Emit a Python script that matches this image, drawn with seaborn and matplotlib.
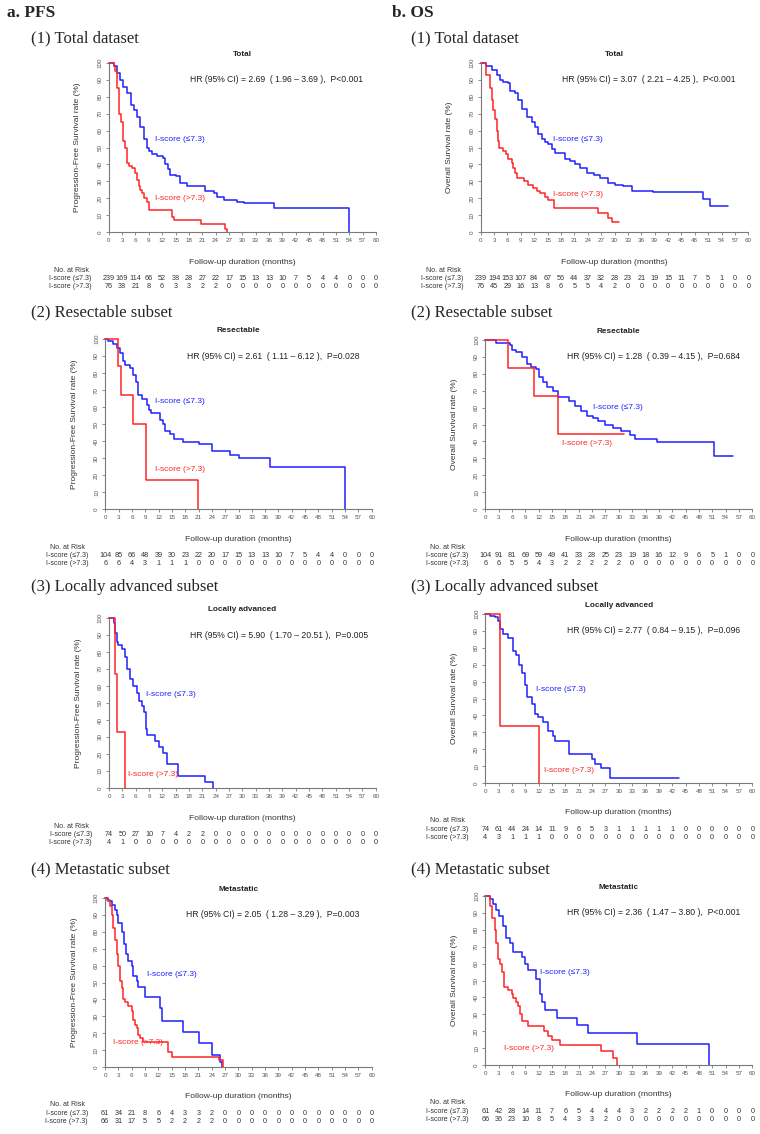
import numpy as np
import pandas as pd
import seaborn as sns
import matplotlib
matplotlib.use('Agg')
import matplotlib.pyplot as plt

# ---- data (KM step points: time in months, survival %) ----
months = list(range(0, 61, 3))

pfs_total_lo_t = [0, 1.1, 1.8, 2.6, 3.2, 4.1, 4.9, 5.6, 6.4, 7.1, 7.9, 8.5, 9.0, 9.7, 10.8, 12.1, 12.7, 13.3, 13.8, 15.0, 16.1, 17.6, 21.7, 23.6, 24.3, 25.8, 28.8, 30.3, 37.2, 53.9]
pfs_total_lo_s = [100, 98, 94, 90, 86, 82, 75, 72, 68, 62, 55, 50, 48, 46, 45, 44, 40, 37, 34, 33, 29, 27.5, 24, 23, 21, 19, 18, 17, 14, 0]
pfs_total_hi_t = [0, 1.2, 1.5, 1.9, 2.2, 2.8, 3.2, 3.7, 4.0, 4.5, 5.2, 6.0, 6.4, 6.7, 7.1, 7.5, 7.9, 8.6, 9.1, 14.2, 14.7, 20.7, 26.0, 26.5]
pfs_total_hi_s = [100, 98, 95, 85, 70, 65, 54, 50, 41, 39, 38, 35, 31, 27, 25, 23, 20, 18, 13, 9, 7, 4.5, 2, 0]

os_total_lo_t = [0, 1.3, 2.5, 3.6, 4.3, 5.1, 6.2, 6.6, 7.7, 8.4, 9.2, 10.3, 11.4, 12.2, 12.9, 13.7, 14.4, 15.2, 15.9, 16.7, 18.9, 20.0, 21.2, 22.3, 23.8, 25.3, 26.8, 28.6, 30.1, 32.0, 34.0, 38.7, 49.9, 51.4, 55.5]
os_total_lo_s = [100, 98, 96, 93, 90, 89, 88, 83.5, 82, 78, 73, 68, 65, 62, 58, 55, 53, 52, 49, 47, 43, 42, 40.5, 38, 35, 33.5, 32, 29, 28, 27, 24, 23.5, 19.5, 15.5, 15.5]
os_total_hi_t = [0, 1.3, 2.1, 2.5, 2.8, 3.2, 3.6, 3.8, 4.2, 5.1, 5.7, 6.2, 7.0, 7.3, 7.7, 8.1, 9.6, 10.7, 11.8, 12.6, 13.3, 14.4, 15.2, 16.4, 26.4, 28.6, 29.4, 31.1]
os_total_hi_s = [100, 93, 85, 78, 72, 67, 60, 54, 50, 48, 46, 43, 41, 38, 35, 32, 30, 28, 26, 24, 23, 21, 19, 14, 11, 8.5, 6, 6]

pfs_res_lo_t = [0, 0.7, 1.8, 2.6, 3.3, 3.9, 4.4, 5.6, 6.3, 6.9, 7.4, 8.2, 9.3, 9.9, 10.4, 12.3, 13.1, 13.4, 14.6, 15.5, 17.6, 21.2, 24.0, 28.1, 30.0, 37.1, 54.0]
pfs_res_lo_s = [100, 99, 97, 95, 92, 87, 85, 83, 79, 75, 67, 65, 61, 58, 56.5, 52.5, 50, 46, 44, 41, 39.5, 38, 34, 32, 30, 25, 0]
pfs_res_hi_t = [0, 2.9, 3.5, 6.3, 9.1, 20.8]
pfs_res_hi_s = [100, 84, 67, 50, 17, 0]

os_res_lo_t = [0, 2.5, 5.5, 5.9, 7.0, 8.2, 9.3, 10.2, 11.5, 12.1, 13.0, 13.8, 15.3, 16.4, 18.7, 20.1, 21.6, 22.8, 24.3, 25.4, 26.9, 28.8, 30.6, 32.5, 33.6, 38.5, 51.3, 55.6]
os_res_lo_s = [100, 98.5, 97, 94, 93, 90, 86, 84, 83, 78, 75, 72, 70, 66.5, 64, 61, 58, 55, 54, 52, 50, 48, 46, 43.5, 41.5, 39.5, 31.5, 31.5]
os_res_hi_t = [0, 5.1, 11.0, 16.4, 31.2]
os_res_hi_s = [100, 83.5, 67, 44.5, 44.5]

pfs_la_lo_t = [0, 1.1, 1.35, 1.7, 2.1, 2.85, 3.6, 4.0, 4.7, 5.5, 6.2, 6.8, 7.35, 7.9, 8.25, 8.5, 10.35, 11.3, 12.1, 13.0, 15.6, 21.5, 23.5]
pfs_la_lo_s = [100, 97, 91, 86, 84, 82, 77, 70, 64, 60, 56, 51, 48, 45, 35, 31, 27.5, 24, 20.5, 14, 7, 3.5, 0]
pfs_la_hi_t = [0, 1.35, 1.9, 3.6]
pfs_la_hi_s = [100, 67, 33, 0]

os_la_lo_t = [0, 1.0, 2.2, 2.9, 3.4, 4.0, 5.2, 6.3, 7.0, 7.6, 8.2, 8.9, 9.4, 10.4, 11.2, 11.9, 13.0, 14.2, 15.3, 15.7, 18.7, 23.9, 24.6, 26.1, 28.0, 43.6]
os_la_lo_s = [100, 99, 98, 96, 91, 88, 86, 78, 76, 70, 65, 58, 51, 47, 41, 39, 36, 31, 28, 25, 17, 14, 11.5, 9, 3, 3]
os_la_hi_t = [0, 3.3, 12.1]
os_la_hi_s = [100, 33.5, 0]

pfs_met_lo_t = [0, 0.75, 1.5, 2.25, 2.6, 3.0, 3.75, 4.3, 4.7, 5.25, 6.0, 6.4, 7.1, 7.5, 9.0, 12.4, 12.75, 17.5, 21.2, 24.0, 25.9, 26.25]
pfs_met_lo_s = [100, 98, 96, 93, 90, 85, 80, 73, 67, 63, 60, 54, 51, 47.5, 41.5, 35, 27.5, 21, 14, 7, 3, 0]
pfs_met_hi_t = [0, 0.4, 1.1, 1.5, 1.9, 2.25, 2.6, 3.0, 3.4, 3.75, 4.1, 4.5, 5.25, 6.0, 6.4, 6.75, 7.1, 7.5, 7.9, 8.6, 14.25, 15.0, 25.7, 26.5]
pfs_met_hi_s = [100, 99, 95, 90, 82, 75, 67, 60, 51, 47, 40, 38.5, 36, 33, 28, 25, 23, 19, 17, 14.5, 9, 6, 4, 0]

os_met_lo_t = [0, 1.0, 1.8, 2.5, 3.1, 3.9, 4.6, 5.5, 6.3, 8.2, 8.9, 9.5, 11.5, 12.3, 12.7, 13.4, 16.0, 20.5, 23.1, 34.0, 50.3]
os_met_lo_s = [100, 98, 95, 92, 88, 82, 75, 72, 67, 64, 60, 56, 51, 42, 37, 32.5, 28, 23.5, 19, 12.5, 0]
os_met_hi_t = [0, 1.0, 1.6, 2.2, 2.5, 2.9, 3.3, 3.8, 4.2, 5.2, 5.9, 6.3, 7.0, 7.4, 7.8, 8.2, 9.7, 13.1, 14.2, 15.0, 16.8, 26.1, 28.8, 29.7]
os_met_hi_s = [100, 94, 87, 80, 72, 63, 60, 55, 46, 44.5, 42, 39.5, 37, 35, 30, 26, 23, 20, 17, 14.5, 12, 8, 4, 0]

# numbers at risk
risk_pfs_total_lo = [239, 169, 114, 66, 52, 38, 28, 27, 22, 17, 15, 13, 13, 10, 7, 5, 4, 4, 0, 0, 0]
risk_pfs_total_hi = [76, 38, 21, 8, 6, 3, 3, 2, 2, 0, 0, 0, 0, 0, 0, 0, 0, 0, 0, 0, 0]
risk_os_total_lo = [239, 194, 153, 107, 84, 67, 56, 44, 37, 32, 28, 23, 21, 19, 15, 11, 7, 5, 1, 0, 0]
risk_os_total_hi = [76, 45, 29, 16, 13, 8, 6, 5, 5, 4, 2, 0, 0, 0, 0, 0, 0, 0, 0, 0, 0]
risk_pfs_res_lo = [104, 85, 66, 48, 39, 30, 23, 22, 20, 17, 15, 13, 13, 10, 7, 5, 4, 4, 0, 0, 0]
risk_pfs_res_hi = [6, 6, 4, 3, 1, 1, 1, 0, 0, 0, 0, 0, 0, 0, 0, 0, 0, 0, 0, 0, 0]
risk_os_res_lo = [104, 91, 81, 69, 59, 49, 41, 33, 28, 25, 23, 19, 18, 16, 12, 9, 6, 5, 1, 0, 0]
risk_os_res_hi = [6, 6, 5, 5, 4, 3, 2, 2, 2, 2, 2, 0, 0, 0, 0, 0, 0, 0, 0, 0, 0]
risk_pfs_la_lo = [74, 50, 27, 10, 7, 4, 2, 2, 0, 0, 0, 0, 0, 0, 0, 0, 0, 0, 0, 0, 0]
risk_pfs_la_hi = [4, 1, 0, 0, 0, 0, 0, 0, 0, 0, 0, 0, 0, 0, 0, 0, 0, 0, 0, 0, 0]
risk_os_la_lo = [74, 61, 44, 24, 14, 11, 9, 6, 5, 3, 1, 1, 1, 1, 1, 0, 0, 0, 0, 0, 0]
risk_os_la_hi = [4, 3, 1, 1, 1, 0, 0, 0, 0, 0, 0, 0, 0, 0, 0, 0, 0, 0, 0, 0, 0]
risk_pfs_met_lo = [61, 34, 21, 8, 6, 4, 3, 3, 2, 0, 0, 0, 0, 0, 0, 0, 0, 0, 0, 0, 0]
risk_pfs_met_hi = [66, 31, 17, 5, 5, 2, 2, 2, 2, 0, 0, 0, 0, 0, 0, 0, 0, 0, 0, 0, 0]
risk_os_met_lo = [61, 42, 28, 14, 11, 7, 6, 5, 4, 4, 4, 3, 2, 2, 2, 2, 1, 0, 0, 0, 0]
risk_os_met_hi = [66, 36, 23, 10, 8, 5, 4, 3, 3, 2, 0, 0, 0, 0, 0, 0, 0, 0, 0, 0, 0]

hr_texts = [
    'HR (95% CI) = 2.69  ( 1.96 \u2013 3.69 ),  P<0.001',
    'HR (95% CI) = 3.07  ( 2.21 \u2013 4.25 ),  P<0.001',
    'HR (95% CI) = 2.61  ( 1.11 \u2013 6.12 ),  P=0.028',
    'HR (95% CI) = 1.28  ( 0.39 \u2013 4.15 ),  P=0.684',
    'HR (95% CI) = 5.90  ( 1.70 \u2013 20.51 ),  P=0.005',
    'HR (95% CI) = 2.77  ( 0.84 \u2013 9.15 ),  P=0.096',
    'HR (95% CI) = 2.05  ( 1.28 \u2013 3.29 ),  P=0.003',
    'HR (95% CI) = 2.36  ( 1.47 \u2013 3.80 ),  P<0.001',
]
plot_titles = ['Total', 'Total', 'Resectable', 'Resectable',
               'Locally advanced', 'Locally advanced', 'Metastatic', 'Metastatic']
row_titles = ['(1) Total dataset', '(2) Resectable subset',
              '(3) Locally advanced subset', '(4) Metastatic subset']
group_names = ['I-score (\u22647.3)', 'I-score (>7.3)']

curves = [
    (pfs_total_lo_t, pfs_total_lo_s, pfs_total_hi_t, pfs_total_hi_s),
    (os_total_lo_t, os_total_lo_s, os_total_hi_t, os_total_hi_s),
    (pfs_res_lo_t, pfs_res_lo_s, pfs_res_hi_t, pfs_res_hi_s),
    (os_res_lo_t, os_res_lo_s, os_res_hi_t, os_res_hi_s),
    (pfs_la_lo_t, pfs_la_lo_s, pfs_la_hi_t, pfs_la_hi_s),
    (os_la_lo_t, os_la_lo_s, os_la_hi_t, os_la_hi_s),
    (pfs_met_lo_t, pfs_met_lo_s, pfs_met_hi_t, pfs_met_hi_s),
    (os_met_lo_t, os_met_lo_s, os_met_hi_t, os_met_hi_s),
]
risks = [
    (risk_pfs_total_lo, risk_pfs_total_hi), (risk_os_total_lo, risk_os_total_hi),
    (risk_pfs_res_lo, risk_pfs_res_hi), (risk_os_res_lo, risk_os_res_hi),
    (risk_pfs_la_lo, risk_pfs_la_hi), (risk_os_la_lo, risk_os_la_hi),
    (risk_pfs_met_lo, risk_pfs_met_hi), (risk_os_met_lo, risk_os_met_hi),
]

# ---- layout (pixels): x of t=0, x of t=60, y of 100%, y of 0% ----
boxes = [
    (108.7, 376.0, 63, 232), (480.7, 748.3, 63, 232),
    (105.3, 371.7, 339, 509), (485.3, 752.3, 340, 509),
    (109.0, 375.7, 618, 788), (485.3, 752.3, 614, 783),
    (105.0, 371.7, 898, 1067), (485.3, 752.3, 896, 1065),
]
# curve label anchors (blue, red)
label_pos = [
    ((10.3, 55), (10.3, 20)), ((16.3, 55), (16.3, 22)),
    ((11.2, 63), (11.2, 23)), ((24.3, 60), (17.2, 38.5)),
    ((8.3, 55), (4.2, 8)), ((11.4, 55.5), (13.2, 7.3)),
    ((9.4, 55), (1.7, 14.7)), ((12.3, 55), (4.3, 9.8)),
]
row_title_y = [38, 312, 587, 869]

W, H = 760, 1134
BLUE = '#2020ff'
RED = '#ff2525'
GRAY = '#7a7a7a'
PX = 0.72  # pixels -> points at 100 dpi

sns.set_theme(style='white')
plt.rcParams['font.family'] = ['Liberation Sans', 'DejaVu Sans']

fig = plt.figure(figsize=(W / 100, H / 100), dpi=100)
fig.patch.set_facecolor('white')

fig.text(7 / W, 1 - 13 / H, 'a. PFS', family=['Liberation Serif'], weight='bold',
         fontsize=12.5, ha='left', va='center')
fig.text(392 / W, 1 - 13 / H, 'b. OS', family=['Liberation Serif'], weight='bold',
         fontsize=12.5, ha='left', va='center')
for r, rt in enumerate(row_titles):
    fig.text(31 / W, 1 - row_title_y[r] / H, rt, family=['Liberation Serif'],
             fontsize=12, ha='left', va='center')
    fig.text(411 / W, 1 - row_title_y[r] / H, rt, family=['Liberation Serif'],
             fontsize=12, ha='left', va='center')

for i in range(8):
    x0, x60, y100, y0 = boxes[i]
    ax = fig.add_axes([x0 / W, 1 - y0 / H, (x60 - x0) / W, (y0 - y100) / H])
    ax.set_facecolor('none')

    lo_t, lo_s, hi_t, hi_s = curves[i]
    df = pd.DataFrame({
        'month': lo_t + hi_t,
        'surv': lo_s + hi_s,
        'group': [group_names[0]] * len(lo_t) + [group_names[1]] * len(hi_t),
    })
    sns.lineplot(data=df, x='month', y='surv', hue='group', hue_order=group_names,
                 palette=[BLUE, RED], estimator=None, sort=False, legend=False,
                 drawstyle='steps-post', linewidth=1.1, clip_on=False, ax=ax)

    ax.set_xlim(0, 60)
    ax.set_ylim(0, 100)
    ax.set_xticks(months)
    ax.set_yticks(range(0, 101, 10))
    ax.set_xlabel('')
    ax.set_ylabel('')
    for sp in ['top', 'right']:
        ax.spines[sp].set_visible(False)
    for sp in ['left', 'bottom']:
        ax.spines[sp].set_color(GRAY)
        ax.spines[sp].set_linewidth(0.8)
    ax.tick_params(axis='both', length=2.5, width=0.6, color=GRAY, labelsize=4.5,
                   labelcolor='#555555', pad=2, bottom=True, left=True)
    for lab in ax.get_yticklabels():
        lab.set_rotation(90)
        lab.set_va('center')

    ylab = 'Progression-Free Survival rate (%)' if i % 2 == 0 else 'Overall Survival rate (%)'
    ax.annotate(ylab, xy=(0, 0.5), xycoords='axes fraction', xytext=(-31 * PX, 0),
                textcoords='offset points', rotation=90, ha='center', va='center',
                fontsize=6, color='#333333')
    ax.annotate('Follow-up duration (months)', xy=(30, 0), xycoords=('data', 'axes fraction'),
                xytext=(0, -30 * PX), textcoords='offset points', ha='center', va='center',
                fontsize=6.1, color='#333333')

    ax.text(30, 105, plot_titles[i], ha='center', va='center', fontsize=5.9,
            weight='bold', color='#222222')
    ax.text(18.3, 90, hr_texts[i], ha='left', va='center', fontsize=6.2, color='#222222')

    (bx, by), (rx, ry) = label_pos[i]
    ax.text(bx, by, group_names[0], color=BLUE, fontsize=6, ha='left', va='center')
    ax.text(rx, ry, group_names[1], color=RED, fontsize=6, ha='left', va='center')

    # number-at-risk table
    ax.annotate('No. at Risk', xy=(0, 0), xycoords=('data', 'axes fraction'),
                xytext=(-20 * PX, -38 * PX), textcoords='offset points',
                ha='right', va='center', fontsize=5, color='#333333')
    for k, (name, vals) in enumerate(zip(group_names, risks[i])):
        dy = -(46.5 + 8 * k) * PX
        ax.annotate(name, xy=(0, 0), xycoords=('data', 'axes fraction'),
                    xytext=(-17 * PX, dy), textcoords='offset points',
                    ha='right', va='center', fontsize=5.1, color='#333333')
        for m, v in zip(months, vals):
            ax.annotate(str(v), xy=(m, 0), xycoords=('data', 'axes fraction'),
                        xytext=(0, dy), textcoords='offset points',
                        ha='center', va='center', fontsize=5.2, color='#333333')

fig.savefig('out.png', dpi=100, facecolor='white')
